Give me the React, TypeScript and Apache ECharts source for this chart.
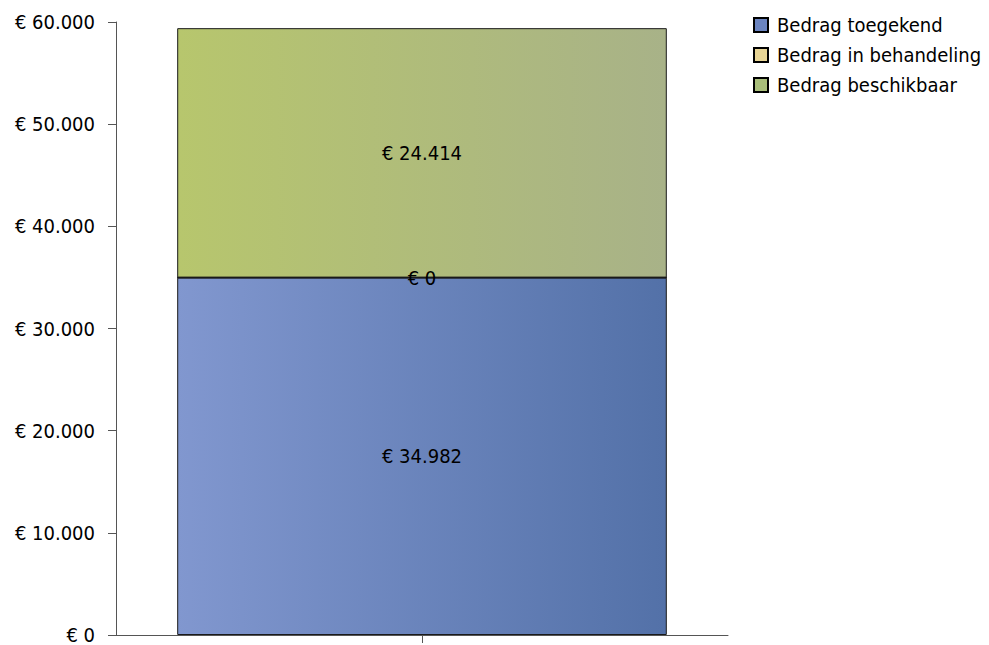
import React, { useEffect, useRef } from "react";
import * as echarts from "echarts";

const categories = [""];
const seriesNames = ["Bedrag toegekend", "Bedrag in behandeling", "Bedrag beschikbaar"];
const toegekend = [34982];
const inBehandeling = [0];
const beschikbaar = [24414];
const yTicks = { min: 0, max: 60000, interval: 10000 };

const FONT = "DejaVu Sans Condensed";
const FS = 20;

function euro(v: number): string {
  const s = Math.round(v).toString().replace(/\B(?=(\d{3})+(?!\d))/g, ".");
  return "€ " + s;
}

function grad(a: string, b: string) {
  return new echarts.graphic.LinearGradient(0, 0, 1, 0, [
    { offset: 0, color: a },
    { offset: 1, color: b },
  ]);
}

export default function App() {
  const ref = useRef<HTMLDivElement>(null);
  useEffect(() => {
    if (!ref.current) return;
    const chart = echarts.init(ref.current, undefined, { renderer: "svg" });
    const label = {
      show: true,
      position: "inside",
      color: "#000",
      fontFamily: FONT,
      fontSize: FS,
      formatter: (p: any) => euro(p.value),
    };
    const border = { borderColor: "#1a1a1a", borderWidth: 1 };
    chart.setOption({
      animation: false,
      textStyle: { fontFamily: FONT },
      grid: { left: 116, right: 261, top: 22, bottom: 10, containLabel: false },
      legend: {
        orient: "vertical",
        left: 748,
        top: 10,
        itemWidth: 14,
        itemHeight: 14,
        itemGap: 10,
        icon: "rect",
        textStyle: { fontFamily: FONT, fontSize: FS, color: "#000", padding: [0, 0, 0, 4] },
        data: [
          { name: seriesNames[0], itemStyle: { color: "#6b84c0", borderColor: "#000", borderWidth: 2 } },
          { name: seriesNames[1], itemStyle: { color: "#e8d595", borderColor: "#000", borderWidth: 2 } },
          { name: seriesNames[2], itemStyle: { color: "#a9be7a", borderColor: "#000", borderWidth: 2 } },
        ],
      },
      xAxis: {
        type: "category",
        data: categories,
        axisLine: { lineStyle: { color: "#555", width: 1 } },
        axisTick: { show: true, length: 8, alignWithLabel: true, lineStyle: { color: "#555" } },
        axisLabel: { show: false },
      },
      yAxis: {
        type: "value",
        min: yTicks.min,
        max: yTicks.max,
        interval: yTicks.interval,
        splitLine: { show: false },
        axisLine: { show: true, lineStyle: { color: "#555", width: 1 } },
        axisTick: { show: true, length: 8, lineStyle: { color: "#555" } },
        axisLabel: {
          color: "#000",
          fontFamily: FONT,
          fontSize: FS,
          margin: 21,
          formatter: (v: number) => euro(v),
        },
      },
      series: [
        {
          name: seriesNames[0],
          type: "bar",
          stack: "total",
          barWidth: "80%",
          data: toegekend,
          itemStyle: { color: grad("#8197cf", "#5371a8"), ...border },
          label,
        },
        {
          name: seriesNames[1],
          type: "bar",
          stack: "total",
          barWidth: "80%",
          data: inBehandeling,
          itemStyle: { color: grad("#efdca0", "#dcc47e"), ...border },
          label,
        },
        {
          name: seriesNames[2],
          type: "bar",
          stack: "total",
          barWidth: "80%",
          data: beschikbaar,
          itemStyle: { color: grad("#b7c66d", "#a8b288"), ...border },
          label,
        },
      ],
    });
    return () => chart.dispose();
  }, []);
  return <div ref={ref} style={{ width: 989, height: 645, position: "absolute", left: 0, top: 0 }} />;
}
